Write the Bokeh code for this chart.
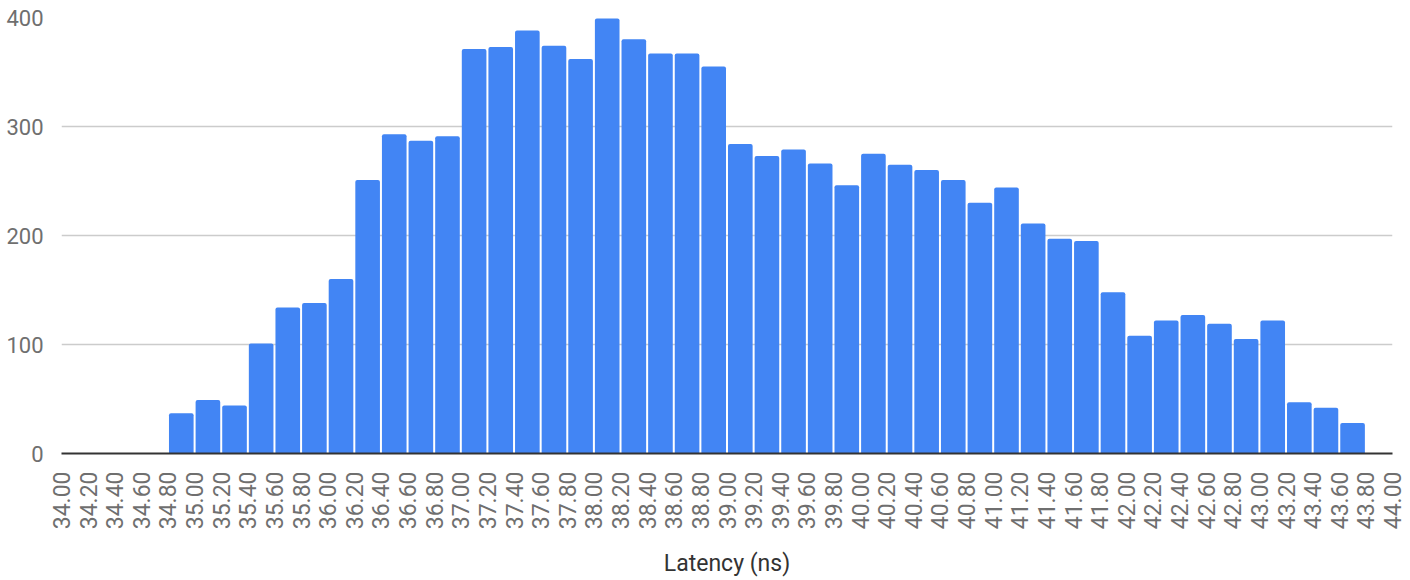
import math
from bokeh.plotting import figure
from bokeh.models import Range1d, FixedTicker, ColumnDataSource
from bokeh.embed import file_html
from bokeh.resources import INLINE

# Bin edges (tick labels) of the latency histogram, in ns
tick_labels = ["34.00", "34.20", "34.40", "34.60", "34.80", "35.00", "35.20", "35.40",
               "35.60", "35.80", "36.00", "36.20", "36.40", "36.60", "36.80", "37.00",
               "37.20", "37.40", "37.60", "37.80", "38.00", "38.20", "38.40", "38.60",
               "38.80", "39.00", "39.20", "39.40", "39.60", "39.80", "40.00", "40.20",
               "40.40", "40.60", "40.80", "41.00", "41.20", "41.40", "41.60", "41.80",
               "42.00", "42.20", "42.40", "42.60", "42.80", "43.00", "43.20", "43.40",
               "43.60", "43.80", "44.00"]

# Count in each bin (bin starts at tick_labels[i])
counts = [0, 0, 0, 0, 37, 49, 44, 101, 134, 138,
          160, 251, 293, 287, 291, 371, 373, 388, 374, 362,
          399, 380, 367, 367, 355, 284, 273, 279, 266, 246,
          275, 265, 260, 251, 230, 244, 211, 197, 195, 148,
          108, 122, 127, 119, 105, 122, 47, 42, 28, 0]

y_ticks = [0, 100, 200, 300, 400]
x_title = "Latency (ns)"

edges = [float(t) for t in tick_labels]
lefts = edges[:-1]
rights = edges[1:]
centers = [(a + b) / 2 for a, b in zip(lefts, rights)]
bin_w = rights[0] - lefts[0]

src = ColumnDataSource(dict(x=centers, top=counts))

FONT = "Roboto"

p = figure(width=1410, height=580, output_backend="svg", toolbar_location=None,
           x_range=Range1d(edges[0], edges[-1]), y_range=Range1d(y_ticks[0], y_ticks[-1]),
           min_border_left=61, min_border_right=18, min_border_top=17, min_border_bottom=126)
p.outline_line_color = None
p.background_fill_color = "white"
p.border_fill_color = "white"

p.vbar(x="x", top="top", width=bin_w * 0.925, bottom=0, source=src,
       fill_color="#4285F4", line_color=None, border_radius=(2, 2, 0, 0))

# x axis
xa = p.xaxis[0]
xa.ticker = FixedTicker(ticks=edges)
xa.major_label_overrides = {e: t for e, t in zip(edges, tick_labels)}
xa.major_label_orientation = math.pi / 2
xa.major_label_text_font = FONT
xa.major_label_text_font_size = "23px"
xa.major_label_text_color = "#6f6f6f"
xa.major_label_standoff = 12
xa.major_tick_line_color = None
xa.minor_tick_line_color = None
xa.axis_line_color = "#333333"
xa.axis_line_width = 2
xa.axis_label = x_title
xa.axis_label_text_font = FONT
xa.axis_label_text_font_size = "23px"
xa.axis_label_text_font_style = "normal"
xa.axis_label_text_color = "#333333"
xa.axis_label_standoff = 18

# y axis
ya = p.yaxis[0]
ya.ticker = FixedTicker(ticks=y_ticks)
ya.major_label_text_font = FONT
ya.major_label_text_font_size = "22px"
ya.major_label_text_color = "#6f6f6f"
ya.major_label_standoff = 12
ya.major_tick_line_color = None
ya.minor_tick_line_color = None
ya.axis_line_color = None

p.xgrid.grid_line_color = None
p.ygrid.grid_line_color = "#cccccc"
p.ygrid.grid_line_width = 1.5

open("out.html", "w").write(file_html(p, INLINE))
